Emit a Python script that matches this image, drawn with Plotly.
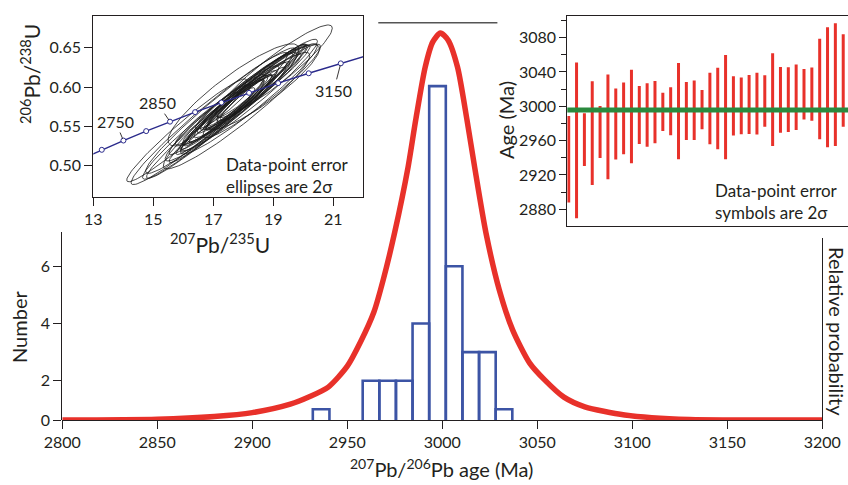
import numpy as np
import plotly.graph_objects as go

W, H = 848, 485

# ---- main histogram of 207Pb/206Pb ages (bins of 8.75 Ma) ----
bin_left = [2931.85, 2940.6, 2949.35, 2958.1, 2966.85, 2975.6, 2984.35,
            2993.1, 3001.85, 3010.6, 3019.35, 3028.1]
bin_width = 8.75
bin_count = [1, 0, 0, 2, 2, 2, 4, 12.3, 6, 3, 3, 1]

# ---- relative probability curve ----
prob_age = [2800, 2850, 2880, 2900, 2920, 2930, 2940, 2950, 2957, 2964, 2969,
            2975, 2982, 2986, 2991, 2995, 2999, 3003, 3008, 3013, 3017, 3023,
            3030, 3037, 3046, 3054, 3064, 3075, 3096, 3130, 3160, 3200]
prob_val = [0, 0.002, 0.009, 0.019, 0.041, 0.060, 0.085, 0.139, 0.202, 0.279,
            0.364, 0.486, 0.654, 0.775, 0.912, 0.977, 1.0, 0.982, 0.912, 0.775,
            0.654, 0.483, 0.336, 0.233, 0.147, 0.103, 0.059, 0.034, 0.013,
            0.001, 0, 0]

# ---- individual grain ages, 2 sigma (Ma) ----
grain_age = [2938.3, 2960.3, 2961.2, 2968.8, 2970.1, 2976.0, 2979.3, 2985.9,
             2988.1, 2990.0, 2990.0, 2993.3, 2993.5, 2994.3, 2994.5, 2994.6,
             2995.4, 2996.2, 2997.5, 2997.5, 2999.1, 3000.5, 3000.5, 3002.2,
             3003.0, 3006.3, 3007.8, 3007.6, 3007.8, 3010.5, 3014.0, 3014.2,
             3020.2, 3022.2, 3025.3, 3030.2]
grain_err = [50.5, 90.7, 30.7, 60.4, 30.3, 61.0, 41.4, 41.8, 54.4, 33.8, 37.0,
             36.3, 22.2, 28.0, 56.1, 33.8, 34.6, 22.9, 41.7, 47.5, 60.7, 34.6,
             33.0, 34.4, 36.0, 30.0, 54.0, 38.3, 37.7, 38.1, 29.5, 30.9, 58.6,
             69.9, 71.5, 53.9]
mean_age = 2995.8

# ---- isotope ratios of the same grains (2 sigma %) ----
pb207_u235 = [16.112, 17.675, 16.786, 16.868, 17.330, 17.242, 17.123, 17.805,
              16.913, 17.696, 18.154, 17.424, 17.888, 18.352, 17.593, 17.135,
              18.057, 17.762, 18.238, 16.859, 19.023, 17.658, 18.119, 17.367,
              18.455, 17.873, 18.204, 17.737, 18.667, 17.305, 18.272, 18.582,
              18.185, 18.675, 17.775, 18.613]
pb206_u238 = [0.545, 0.590, 0.560, 0.560, 0.575, 0.570, 0.565, 0.585, 0.555,
              0.580, 0.595, 0.570, 0.585, 0.600, 0.575, 0.560, 0.590, 0.580,
              0.595, 0.550, 0.620, 0.575, 0.590, 0.565, 0.600, 0.580, 0.590,
              0.575, 0.605, 0.560, 0.590, 0.600, 0.585, 0.600, 0.570, 0.595]
err75 = [12.4, 12.35, 6.29, 15.46, 5.34, 14.5, 9.36, 10.33, 13.43, 6.36, 9.29,
         7.35, 4.23, 9.17, 12.49, 7.31, 11.21, 5.2, 10.33, 12.36, 10.22, 8.28,
         7.29, 9.25, 9.27, 6.28, 12.46, 10.28, 8.34, 10.28, 6.27, 7.26, 12.54,
         9.99, 13.73, 10.54]
err68 = [12, 11, 6, 15, 5, 14, 9, 10, 13, 6, 9, 7, 4, 9, 12, 7, 11, 5, 10, 12,
         9.5, 8, 7, 9, 9, 6, 12, 10, 8, 10, 6, 7, 12, 9, 13, 10]
rho = [0.968, 0.891, 0.953, 0.970, 0.936, 0.966, 0.962, 0.968, 0.968, 0.944,
       0.969, 0.952, 0.945, 0.982, 0.961, 0.958, 0.981, 0.962, 0.968, 0.971,
       0.930, 0.966, 0.960, 0.973, 0.971, 0.955, 0.963, 0.973, 0.959, 0.973,
       0.957, 0.964, 0.957, 0.901, 0.947, 0.949]

# ---- concordia ----
conc_age = [2650, 2700, 2750, 2800, 2850, 2900, 2950, 3000, 3050, 3100, 3150, 3200]
conc_x = [12.597, 13.283, 14.004, 14.762, 15.557, 16.393, 17.271, 18.193,
          19.162, 20.180, 21.249, 22.371]
conc_y = [0.5084, 0.5202, 0.5320, 0.5440, 0.5560, 0.5681, 0.5803, 0.5926,
          0.6050, 0.6175, 0.6301, 0.6428]
conc_labels = [2750, 2850, 3150]

FONT = "Lato, 'Open Sans', sans-serif"
INK = "#231f20"
RED = "#e8312a"
BLUE = "#3c54a5"
NAVY = "#2b2b8c"


def fx(px):
    return px / W


def fy(py):
    return 1 - py / H


fig = go.Figure()

# histogram
centers = [b + bin_width / 2 for b in bin_left]
fig.add_trace(go.Bar(
    x=centers, y=bin_count, width=bin_width, xaxis="x", yaxis="y",
    marker=dict(color="rgba(255,255,255,0)", line=dict(color=BLUE, width=2.6)),
    showlegend=False, hoverinfo="skip"))

# probability curve
fig.add_trace(go.Scatter(
    x=prob_age, y=prob_val, xaxis="x", yaxis="y2", mode="lines",
    line=dict(color=RED, width=5.5, shape="spline", smoothing=0.7),
    showlegend=False, hoverinfo="skip"))

# dummy traces so the extra axis lines are drawn
fig.add_trace(go.Scatter(x=[None], y=[None], xaxis="x", yaxis="y3", showlegend=False))
fig.add_trace(go.Scatter(x=[None], y=[None], xaxis="x", yaxis="y4", showlegend=False))

# error ellipses
t = np.linspace(0, 2 * np.pi, 120)
ex, ey = [], []
for x0, y0, e7, e6, r in zip(pb207_u235, pb206_u238, err75, err68, rho):
    sx = x0 * e7 / 100
    sy = y0 * e6 / 100
    ex += list(x0 + sx * np.cos(t)) + [None]
    ey += list(y0 + sy * (r * np.cos(t) + np.sqrt(1 - r * r) * np.sin(t))) + [None]
fig.add_trace(go.Scatter(
    x=ex, y=ey, xaxis="x5", yaxis="y5", mode="lines",
    line=dict(color="#1a1a1a", width=0.8), showlegend=False, hoverinfo="skip"))

# concordia
fig.add_trace(go.Scatter(
    x=conc_x, y=conc_y, xaxis="x5", yaxis="y5", mode="lines+markers",
    line=dict(color=NAVY, width=1.4),
    marker=dict(size=5, color="white", line=dict(color=NAVY, width=1)),
    showlegend=False, hoverinfo="skip"))

# ages with 2 sigma bars
idx = list(range(1, len(grain_age) + 1))
fig.add_trace(go.Scatter(
    x=idx, y=grain_age, xaxis="x6", yaxis="y6", mode="markers",
    marker=dict(size=1, color="rgba(0,0,0,0)"),
    error_y=dict(type="data", array=grain_err, visible=True, color=RED,
                 thickness=3, width=0),
    showlegend=False, hoverinfo="skip"))

axis_common = dict(showgrid=False, zeroline=False, linecolor=INK, tickcolor=INK,
                   tickfont=dict(family=FONT, size=16, color=INK))

fig.update_layout(
    width=W, height=H, margin=dict(l=0, r=0, t=0, b=0),
    paper_bgcolor="white", plot_bgcolor="rgba(0,0,0,0)",
    font=dict(family=FONT, size=16, color=INK),
    showlegend=False,
    xaxis=dict(axis_common, domain=[fx(62.3), fx(822.3)], range=[2800, 3200],
               anchor="y", showline=True, linewidth=1.3, ticks="outside",
               ticklen=8, tickvals=list(range(2800, 3201, 50)), automargin=False),
    yaxis=dict(axis_common, domain=[fy(420), 1.0],
               range=[0.626, 0.626 + 420 / 28.6], anchor="x", showline=False,
               ticks="outside", ticklen=8, tickvals=[0.626, 2, 4, 6],
               ticktext=["0", "2", "4", "6"], automargin=False),
    yaxis2=dict(overlaying="y", range=[0, 420 / 387], visible=False),
    yaxis3=dict(domain=[fy(420), fy(232.3)], anchor="x", showline=True,
                linewidth=1.3, linecolor=INK, showticklabels=False, ticks="",
                showgrid=False, zeroline=False, range=[0, 1]),
    yaxis4=dict(domain=[fy(421.7), fy(238.3)], anchor="x", side="right",
                showline=True, linewidth=1.3, linecolor=INK,
                showticklabels=False, ticks="", showgrid=False,
                zeroline=False, range=[0, 1]),
    xaxis5=dict(axis_common, domain=[fx(93.3), fx(363.3)], range=[13, 22],
                anchor="y5", showline=True, mirror=True, linewidth=1,
                ticks="outside", ticklen=8, tick0=13, dtick=2, automargin=False),
    yaxis5=dict(axis_common, domain=[fy(196.7), fy(15.7)], range=[0.4606, 0.6907],
                anchor="x5", showline=True, mirror=True, linewidth=1,
                ticks="outside", ticklen=8, tick0=0.5, dtick=0.05,
                tickformat=".2f", automargin=False),
    xaxis6=dict(domain=[fx(567.3), 1.0], range=[0.82, 36.61], anchor="y6",
                showline=True, mirror=True, linewidth=1, linecolor=INK,
                showticklabels=False, ticks="", showgrid=False, zeroline=False),
    yaxis6=dict(axis_common, domain=[fy(226), fy(15.7)], range=[2860.5, 3105.6],
                anchor="x6", showline=True, linewidth=1, ticks="outside",
                ticklen=7, tick0=2880, dtick=40, automargin=False,
                minor=dict(ticks="outside", ticklen=5, tick0=2880, dtick=20,
                           tickcolor=INK)),
)

# weighted mean line on the age plot
fig.add_shape(type="line", xref="x6 domain", yref="y6", x0=0, x1=1,
              y0=mean_age, y1=mean_age, line=dict(color="#2a8a3e", width=5))
# short rule at the top of the figure
fig.add_shape(type="line", xref="x", yref="paper", x0=2966.3, x1=3029,
              y0=fy(22.7), y1=fy(22.7), line=dict(color="#555555", width=1.5))

# concordia age labels
label_offsets = {2750: (-8, -19), 2850: (-13, -19), 3150: (-7, 27)}
for age in conc_labels:
    i = conc_age.index(age)
    ax, ay = label_offsets[age]
    fig.add_annotation(x=conc_x[i], y=conc_y[i], xref="x5", yref="y5",
                       text=str(age), showarrow=True, arrowhead=0,
                       arrowwidth=0.9, arrowcolor=INK, ax=ax, ay=ay,
                       standoff=2, font=dict(size=16))

texts = [
    ("<sup>207</sup>Pb/<sup>206</sup>Pb age (Ma)", 441.7, 468, 0, 20),
    ("Number", 19, 327, -90, 20),
    ("Relative probability", 837, 331, 90, 20),
    ("<sup>207</sup>Pb/<sup>235</sup>U", 220, 243, 0, 21),
    ("<sup>206</sup>Pb/<sup>238</sup>U", 30, 74, -90, 21),
    ("Age (Ma)", 506, 120, -90, 20),
]
for txt, x, y, ang, size in texts:
    fig.add_annotation(text=txt, x=fx(x), y=fy(y), xref="paper", yref="paper",
                       showarrow=False, textangle=ang, xanchor="center",
                       yanchor="middle", font=dict(size=size))

fig.add_annotation(text="Data-point error<br>ellipses are 2σ", x=fx(224),
                   y=fy(175), xref="paper", yref="paper", showarrow=False,
                   xanchor="left", yanchor="middle", align="left",
                   font=dict(size=17))
fig.add_annotation(text="Data-point error<br>symbols are 2σ", x=fx(713),
                   y=fy(201.5), xref="paper", yref="paper", showarrow=False,
                   xanchor="left", yanchor="middle", align="left",
                   font=dict(size=17))

fig.write_html("out.html", config={"displayModeBar": False},
               post_script="document.body.style.margin='0';")
